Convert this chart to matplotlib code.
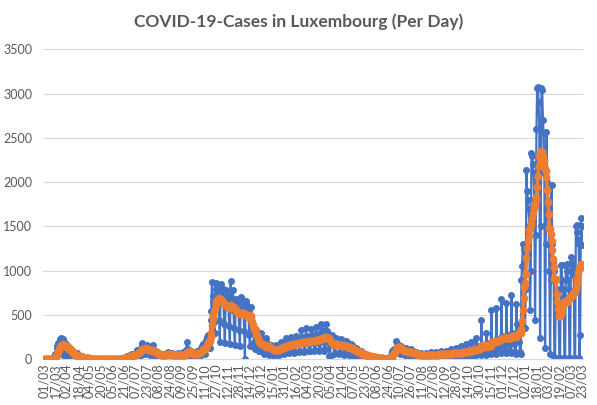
import matplotlib
matplotlib.use('Agg')
import matplotlib.pyplot as plt
import pandas as pd

# daily new cases from 01/03/2020, one row per week (Sun..Sat)
cases = [
    0, 0, 0, 1, 0, 1, 1,
    1, 2, 2, 3, 10, 19, 12,
    26, 4, 59, 63, 132, 149, 186,
    128, 77, 235, 245, 120, 152, 226,
    119, 38, 190, 141, 168, 125, 117,
    75, 39, 127, 64, 81, 108, 47,
    11, 11, 15, 66, 71, 36, 35,
    8, 12, 20, 36, 34, 17, 21,
    8, 3, 15, 11, 14, 18, 8,
    5, 3, 6, 10, 5, 4, 3,
    2, 1, 2, 5, 10, 6, 4,
    3, 1, 1, 1, 3, 3, 4,
    3, 2, 1, 5, 2, 4, 5,
    1, 0, 3, 4, 4, 5, 2,
    4, 2, 5, 4, 6, 9, 3,
    2, 4, 7, 10, 12, 12, 17,
    12, 9, 17, 25, 38, 30, 42,
    28, 16, 46, 48, 58, 65, 57,
    43, 28, 60, 75, 95, 105, 110,
    70, 40, 95, 124, 180, 165, 130,
    90, 60, 105, 140, 160, 125, 100,
    60, 45, 110, 130, 100, 162, 95,
    50, 35, 80, 70, 65, 75, 55,
    40, 25, 60, 55, 50, 60, 50,
    35, 30, 65, 60, 75, 80, 45,
    35, 30, 60, 65, 70, 55, 50,
    30, 25, 55, 60, 65, 70, 40,
    25, 20, 55, 60, 70, 85, 55,
    30, 25, 60, 110, 200, 120, 60,
    35, 25, 80, 100, 85, 75, 60,
    40, 30, 70, 80, 95, 100, 90,
    50, 40, 110, 130, 150, 170, 150,
    80, 60, 180, 220, 250, 280, 260,
    170, 130, 450, 550, 877, 720, 650,
    420, 300, 860, 800, 850, 820, 760,
    450, 200, 780, 850, 720, 800, 650,
    400, 180, 700, 780, 700, 760, 600,
    380, 170, 890, 700, 640, 780, 560,
    350, 160, 620, 680, 640, 660, 550,
    330, 150, 600, 700, 680, 620, 560,
    320, 0, 650, 660, 600, 590, 540,
    280, 150, 590, 450, 380, 340, 300,
    200, 120, 330, 300, 260, 150, 100,
    90, 100, 300, 250, 200, 110, 120,
    60, 80, 240, 200, 180, 150, 130,
    50, 60, 160, 150, 140, 120, 100,
    40, 50, 150, 160, 140, 130, 110,
    50, 60, 200, 180, 170, 150, 120,
    60, 70, 240, 220, 200, 180, 150,
    70, 80, 250, 230, 210, 190, 160,
    70, 80, 260, 240, 230, 200, 170,
    80, 90, 330, 250, 240, 210, 180,
    80, 90, 350, 260, 240, 220, 170,
    90, 100, 340, 270, 250, 230, 180,
    90, 110, 368, 290, 260, 240, 190,
    100, 110, 395, 330, 310, 280, 200,
    100, 120, 395, 320, 300, 260, 180,
    40, 30, 250, 274, 230, 200, 150,
    60, 70, 237, 230, 210, 190, 150,
    60, 70, 230, 220, 200, 180, 140,
    50, 60, 210, 200, 180, 160, 130,
    40, 50, 170, 160, 140, 120, 100,
    30, 40, 130, 120, 100, 90, 70,
    25, 30, 90, 80, 70, 60, 50,
    15, 20, 60, 55, 45, 40, 30,
    10, 12, 40, 35, 30, 25, 20,
    8, 10, 25, 22, 20, 18, 12,
    5, 6, 15, 14, 12, 10, 8,
    4, 5, 10, 12, 10, 12, 15,
    15, 20, 50, 70, 90, 110, 120,
    100, 80, 207, 180, 160, 140, 120,
    70, 60, 150, 130, 110, 100, 80,
    50, 45, 130, 110, 100, 90, 70,
    40, 40, 120, 100, 90, 80, 60,
    30, 25, 80, 70, 65, 60, 45,
    30, 20, 75, 65, 60, 55, 45,
    25, 25, 70, 65, 60, 60, 50,
    30, 20, 80, 70, 65, 60, 50,
    30, 25, 85, 70, 65, 60, 55,
    30, 25, 90, 75, 70, 65, 55,
    35, 25, 100, 75, 70, 70, 60,
    35, 30, 120, 80, 75, 70, 60,
    40, 30, 130, 85, 80, 75, 65,
    40, 35, 150, 95, 90, 85, 70,
    45, 35, 170, 110, 100, 95, 80,
    50, 40, 200, 130, 115, 105, 90,
    55, 45, 240, 150, 140, 125, 100,
    60, 50, 450, 160, 150, 140, 110,
    65, 55, 300, 190, 170, 160, 120,
    70, 60, 560, 200, 190, 175, 130,
    80, 65, 580, 230, 210, 190, 140,
    85, 70, 680, 260, 230, 210, 150,
    90, 75, 640, 280, 250, 230, 160,
    90, 70, 730, 300, 270, 250, 170,
    85, 65, 620, 400, 380, 350, 200,
    80, 60, 900, 1050, 1300, 1250, 1100,
    350, 800, 2137, 1900, 1800, 1700, 1500,
    556, 1000, 2325, 2300, 2200, 2100, 1800,
    450, 1400, 2600, 3060, 3070, 2900, 2600,
    237, 1500, 3060, 3040, 2700, 2550, 2100,
    124, 1300, 2570, 2000, 1800, 1600, 1000,
    64, 900, 1966, 1300, 1100, 1000, 30,
    20, 900, 800, 650, 550, 500, 20,
    20, 1060, 1060, 900, 800, 700, 15,
    15, 1060, 1080, 1000, 900, 800, 20,
    20, 1160, 1100, 1060, 1000, 950, 20,
    20, 1500, 1515, 1440, 1350, 1300, 20,
    275, 1600, 1500, 1290,
]

tick_labels = ['01/03', '17/03', '02/04', '18/04', '04/05', '20/05', '05/06', '21/06',
               '07/07', '23/07', '08/08', '24/08', '09/09', '25/09', '11/10', '27/10',
               '12/11', '28/11', '14/12', '30/12', '15/01', '31/01', '16/02', '04/03',
               '20/03', '05/04', '21/04', '07/05', '23/05', '08/06', '24/06', '10/07',
               '26/07', '11/08', '27/08', '12/09', '28/09', '14/10', '30/10', '15/11',
               '01/12', '17/12', '02/01', '18/01', '03/02', '19/02', '07/03', '23/03']
tick_step = 16

# 7 day average
avg = pd.Series(cases).rolling(7, min_periods=1).mean()

plt.rcParams['font.family'] = ['Lato', 'DejaVu Sans']
grey = '#595959'

fig = plt.figure(figsize=(5.97, 4.05), dpi=100)
ax = fig.add_axes([0.0725, 0.1126, 0.9035, 0.7657])

x = range(len(cases))
ax.plot(x, cases, color='#4472C4', lw=1.6, marker='o', ms=4, zorder=2)
ax.plot(x, avg, color='#ED7D31', lw=2.6, marker='o', ms=4.6, zorder=3)

ax.set_xlim(-0.5, len(cases) - 0.5)
ax.set_ylim(0, 3500)
ax.set_yticks(range(0, 3501, 500))
ax.set_xticks(range(0, len(cases), tick_step))
ax.set_xticklabels(tick_labels, rotation=90)
ax.tick_params(axis='x', length=0, labelsize=9, colors=grey, pad=3)
ax.tick_params(axis='y', length=0, labelsize=9, colors=grey, pad=8)

ax.grid(axis='y', color='#D9D9D9', lw=0.8)
ax.set_axisbelow(True)
for s in ['top', 'right', 'left']:
    ax.spines[s].set_visible(False)
ax.spines['bottom'].set_color('#D9D9D9')

fig.text(0.5, 0.946, 'COVID-19-Cases in Luxembourg (Per Day)', ha='center', va='center',
         fontsize=12.5, fontweight='bold', color=grey)

fig.savefig('out.png', dpi=100)
